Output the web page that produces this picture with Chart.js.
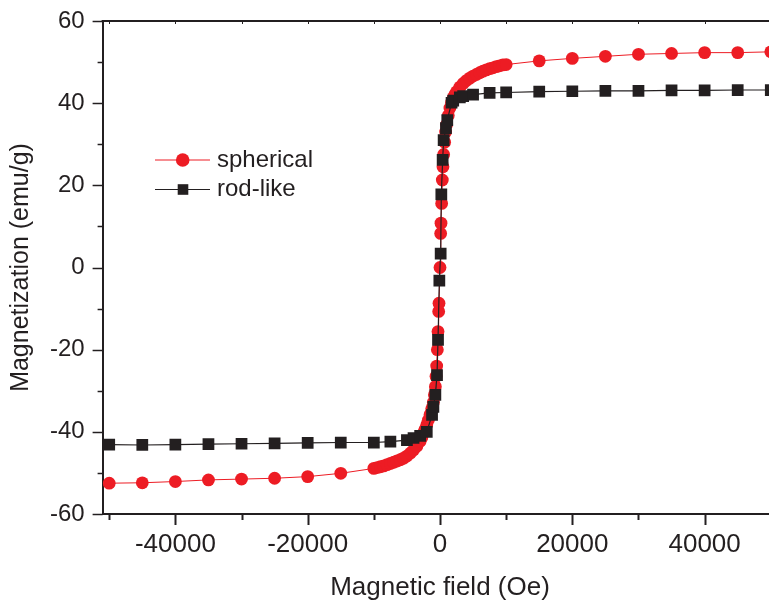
<!DOCTYPE html>
<html>
<head>
<meta charset="utf-8">
<title>M-H loops</title>
<script src="https://cdn.jsdelivr.net/npm/chart.js@4/dist/chart.umd.min.js"></script>
<style>
  html, body { margin: 0; padding: 0; background: #fff; overflow: hidden; }
  #wrap { width: 769px; height: 601px; overflow: hidden; }
</style>
</head>
<body>
<div id="wrap"><canvas id="mh" width="800" height="601"></canvas></div>
<script>
// spherical particles: field (Oe) and magnetization (emu/g)
var fieldSpherical = [
  -50000, -45000, -40000, -35000, -30000, -25000, -20000, -15000,
  -10000, -9500, -9000, -8500, -8000, -7500, -7000, -6500, -6000, -5500,
  -5000, -4500, -4000, -3500, -3000, -2750, -2500, -2250, -2000, -1750,
  -1500, -1250, -1000, -850, -700, -600, -500, -400, -300, -200, -150, 0,
  100, 150, 250, 350, 450, 550, 700, 850, 1000, 1250, 1500, 1750, 2000,
  2250, 2500, 3000, 3500, 4000, 4500, 5000, 5500, 6000, 6500, 7000, 7500,
  8000, 8500, 9000, 9500, 10000,
  15000, 20000, 25000, 30000, 35000, 40000, 45000, 50000
];
var magSpherical = [
  -52.5, -52.4, -52.1, -51.7, -51.5, -51.3, -50.9, -50.1,
  -48.9, -48.7, -48.5, -48.3, -48.0, -47.7, -47.4, -47.1, -46.8, -46.4,
  -45.9, -45.2, -44.4, -43.5, -42.3, -41.4, -40.3, -39.4, -38.3, -37.1,
  -35.8, -34.4, -32.8, -31.0, -29.0, -26.5, -24.0, -20.0, -15.6, -10.7, -8.7, 0,
  8.3, 10.8, 15.6, 21.3, 24.5, 27.5, 30.5, 33.0, 34.8, 37.0, 38.8, 40.2, 41.3,
  42.1, 42.8, 43.9, 44.8, 45.5, 46.1, 46.6, 47.0, 47.4, 47.8, 48.1, 48.4,
  48.6, 48.9, 49.1, 49.3, 49.4,
  50.3, 50.9, 51.4, 51.9, 52.1, 52.3, 52.3, 52.5
];

// rod-like particles
var fieldRod = [
  -50000, -45000, -40000, -35000, -30000, -25000, -20000, -15000,
  -10000, -7500, -5000, -4000, -3000, -2000, -1200, -1000, -700, -450,
  -300, -100, 100, 200, 400, 550, 900, 1100, 1750, 2000, 3000, 3500, 5000,
  7500, 10000, 15000, 20000, 25000, 30000, 35000, 40000, 45000, 50000
];
var magRod = [
  -43.1, -43.2, -43.1, -43.0, -42.9, -42.8, -42.7, -42.6,
  -42.6, -42.4, -42.0, -41.5, -41.0, -40.0, -35.9, -33.9, -31.0, -26.2,
  -17.6, -3.2, 3.4, 17.8, 26.2, 31.0, 33.9, 35.9, 40.1, 40.6, 41.4, 41.7, 42.1,
  42.5, 42.6, 42.8, 42.9, 43.0, 43.0, 43.1, 43.1, 43.2, 43.2
];

var xMajor = [-40000, -20000, 0, 20000, 40000];
var xMinor = [-50000, -30000, -10000, 10000, 30000, 50000];
var yMajor = [-60, -40, -20, 0, 20, 40, 60];
var yMinor = [-50, -30, -10, 10, 30, 50];

var seriesNames = ['spherical', 'rod-like'];

var INK = '#231f20';
var RED = '#ed1c24';
var FONT = '"Liberation Sans", Arial, Helvetica, sans-serif';

function pairs(xs, ys) {
  return xs.map(function (x, i) { return { x: x, y: ys[i] }; });
}

// keep the plot box where the layout padding puts it
function noEdgePadding(s) {
  s.paddingTop = 0;
  s.paddingBottom = 0;
  s.paddingLeft = 0;
  s.paddingRight = 0;
}

// frame on top/right plus major/minor tick marks on every side
var frame = {
  id: 'frame',
  afterDatasetsDraw: function (chart) {
    var ctx = chart.ctx, a = chart.chartArea;
    var sx = chart.scales.x, sy = chart.scales.y;
    ctx.save();
    ctx.strokeStyle = INK;
    ctx.lineWidth = 2;
    ctx.beginPath();
    ctx.moveTo(a.left - 1, a.top);
    ctx.lineTo(a.right, a.top);
    ctx.lineTo(a.right, a.bottom);
    ctx.stroke();

    function xTick(v, len, w) {
      var px = Math.round(sx.getPixelForValue(v)) + 0.5;
      ctx.lineWidth = w;
      ctx.beginPath();
      ctx.moveTo(px, a.bottom);
      ctx.lineTo(px, a.bottom + len);
      ctx.stroke();
      ctx.lineWidth = 1;
      ctx.beginPath();
      ctx.moveTo(px, a.top);
      ctx.lineTo(px, a.top + 3);
      ctx.stroke();
    }
    function yTick(v, len) {
      var py = Math.round(sy.getPixelForValue(v)) + 0.5;
      ctx.lineWidth = 1.5;
      ctx.beginPath();
      ctx.moveTo(a.left, py);
      ctx.lineTo(a.left - len, py);
      ctx.stroke();
    }
    xMajor.forEach(function (v) { xTick(v, 11, 2); });
    xMinor.forEach(function (v) { xTick(v, 6, 2); });
    yMajor.forEach(function (v) { yTick(v, 10); });
    yMinor.forEach(function (v) { yTick(v, 5); });
    ctx.restore();
  }
};

// legend: short line with the marker in its middle, then the name
var keyBox = {
  id: 'keyBox',
  afterDraw: function (chart) {
    var ctx = chart.ctx;
    var rows = [160, 189.5];
    ctx.save();
    chart.data.datasets.forEach(function (ds, i) {
      var y = rows[i];
      ctx.strokeStyle = ds.borderColor;
      ctx.lineWidth = 1;
      ctx.beginPath();
      ctx.moveTo(155, y);
      ctx.lineTo(210, y);
      ctx.stroke();
      ctx.fillStyle = ds.pointBackgroundColor;
      if (ds.pointStyle === 'rect') {
        ctx.fillRect(183 - 5.3, y - 5.3, 10.6, 10.6);
      } else {
        ctx.beginPath();
        ctx.arc(182.7, y, 6.8, 0, Math.PI * 2);
        ctx.fill();
      }
      ctx.fillStyle = INK;
      ctx.font = '24px ' + FONT;
      ctx.textBaseline = 'middle';
      ctx.textAlign = 'left';
      ctx.fillText(ds.label, 217, y);
    });
    ctx.restore();
  }
};

new Chart(document.getElementById('mh'), {
  type: 'scatter',
  data: {
    datasets: [{
      label: seriesNames[0],
      data: pairs(fieldSpherical, magSpherical),
      showLine: true,
      borderColor: RED,
      borderWidth: 1,
      pointStyle: 'circle',
      pointRadius: 6.4,
      pointHoverRadius: 6.4,
      pointBorderWidth: 0,
      pointBackgroundColor: RED,
      order: 2
    }, {
      label: seriesNames[1],
      data: pairs(fieldRod, magRod),
      showLine: true,
      borderColor: INK,
      borderWidth: 1.2,
      pointStyle: 'rect',
      pointRadius: 8.3,
      pointHoverRadius: 8.3,
      pointBorderWidth: 0,
      pointBackgroundColor: INK,
      order: 1
    }]
  },
  options: {
    responsive: false,
    animation: false,
    devicePixelRatio: 1,
    events: [],
    layout: { padding: { top: 21, right: 22.6, bottom: 0, left: 0 } },
    plugins: {
      legend: { display: false },
      tooltip: { enabled: false }
    },
    scales: {
      x: {
        type: 'linear',
        position: 'bottom',
        min: -51000,
        max: 51000,
        afterBuildTicks: function (s) {
          s.ticks = xMajor.map(function (v) { return { value: v }; });
        },
        afterFit: function (s) { s.height = 87; noEdgePadding(s); },
        grid: { display: true, drawOnChartArea: false, drawTicks: false },
        border: { display: true, width: 2, color: INK },
        ticks: {
          autoSkip: false,
          maxRotation: 0,
          padding: 15,
          color: INK,
          font: { family: FONT, size: 26 },
          callback: function (v) { return String(v); }
        },
        title: {
          display: true,
          text: 'Magnetic field (Oe)',
          color: INK,
          font: { family: FONT, size: 26, lineHeight: 1 },
          padding: { top: 0, bottom: 0 }
        }
      },
      y: {
        type: 'linear',
        position: 'left',
        min: -60,
        max: 60,
        afterBuildTicks: function (s) {
          s.ticks = yMajor.map(function (v) { return { value: v }; });
        },
        afterFit: function (s) { s.width = 102.6; noEdgePadding(s); },
        grid: { display: true, drawOnChartArea: false, drawTicks: false },
        border: { display: true, width: 2, color: INK },
        ticks: {
          padding: 18,
          color: INK,
          font: { family: FONT, size: 24 },
          callback: function (v) { return String(v); }
        },
        title: {
          display: true,
          text: 'Magnetization (emu/g)',
          color: INK,
          font: { family: FONT, size: 25, lineHeight: 1 },
          padding: { top: 9, bottom: 0 }
        }
      }
    }
  },
  plugins: [frame, keyBox]
});
</script>
</body>
</html>
